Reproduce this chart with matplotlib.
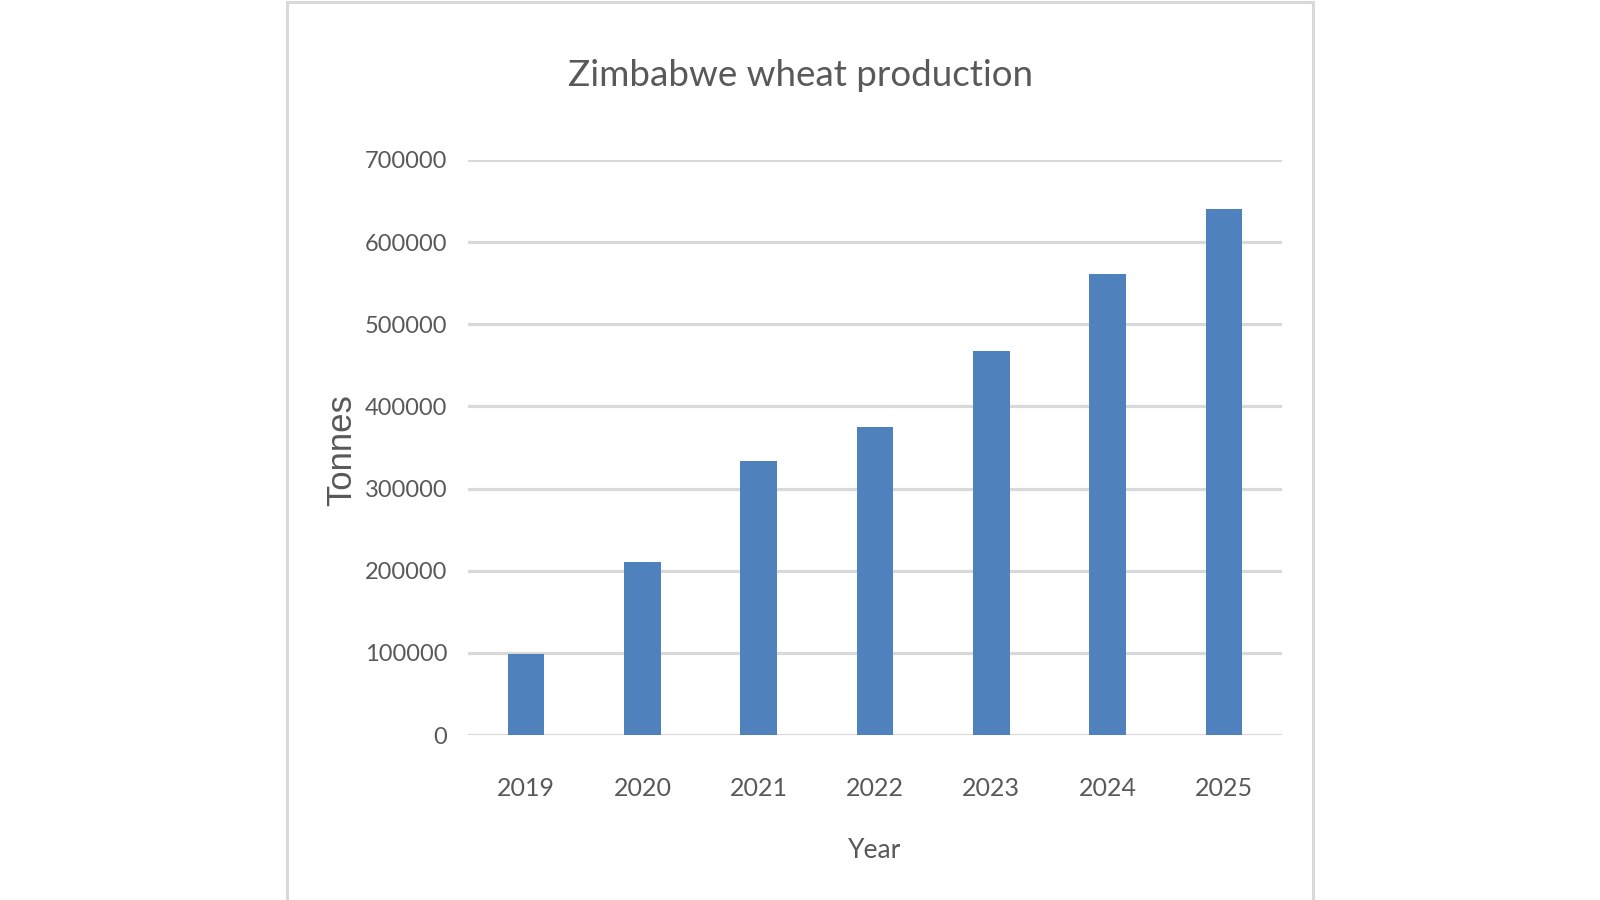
import matplotlib
matplotlib.use("Agg")
import matplotlib.pyplot as plt
from matplotlib.patches import Rectangle

# values (tonnes)
years = ["2019", "2020", "2021", "2022", "2023", "2024", "2025"]
tonnes = [99000, 211000, 334000, 375000, 468000, 561000, 640000]
yticks = [0, 100000, 200000, 300000, 400000, 500000, 600000, 700000]

BAR = "#4F81BD"
GRID = "#D9D9D9"
TXT = "#595959"
NARROW = ["Lato", "DejaVu Sans"]

fig = plt.figure(figsize=(16, 9), dpi=100)
fig.patch.set_facecolor("white")

# chart frame
fig.patches.append(Rectangle((287 / 1600, -0.01), (1313 - 287) / 1600, 1.0 - 2 / 900 + 0.01,
                             transform=fig.transFigure, fill=False,
                             edgecolor=GRID, linewidth=2.2))

ax = fig.add_axes([468 / 1600, 1 - 735 / 900, 814 / 1600, 575 / 900])
x = range(len(years))
ax.bar(x, tonnes, width=0.315, color=BAR, zorder=3)
ax.set_xlim(-0.5, len(years) - 0.5)
ax.set_ylim(0, 700000)
ax.set_yticks(yticks)
ax.set_yticklabels([str(v) for v in yticks], family=NARROW, fontsize=17, color=TXT)
ax.set_xticks(list(x))
ax.set_xticklabels(years, family=NARROW, fontsize=18, color=TXT)
ax.tick_params(axis="both", length=0)
ax.tick_params(axis="y", pad=15)
ax.tick_params(axis="x", pad=30)
for s in ax.spines.values():
    s.set_visible(False)
ax.grid(axis="y", color=GRID, linewidth=2.3, zorder=0)
ax.set_axisbelow(True)

fig.text(800 / 1600, 1 - 76 / 900, "Zimbabwe wheat production", family=NARROW,
         fontsize=26.5, color=TXT, ha="center", va="center")
fig.text(875 / 1600, 1 - 851 / 900, "Year", family=NARROW, fontsize=19,
         color=TXT, ha="center", va="center")
fig.text(342 / 1600, 1 - 450 / 900, "Tonnes", family=["Liberation Sans", "DejaVu Sans"],
         fontsize=25, color=TXT, rotation=90, ha="center", va="center")

fig.savefig("out.png", dpi=100, facecolor="white")
